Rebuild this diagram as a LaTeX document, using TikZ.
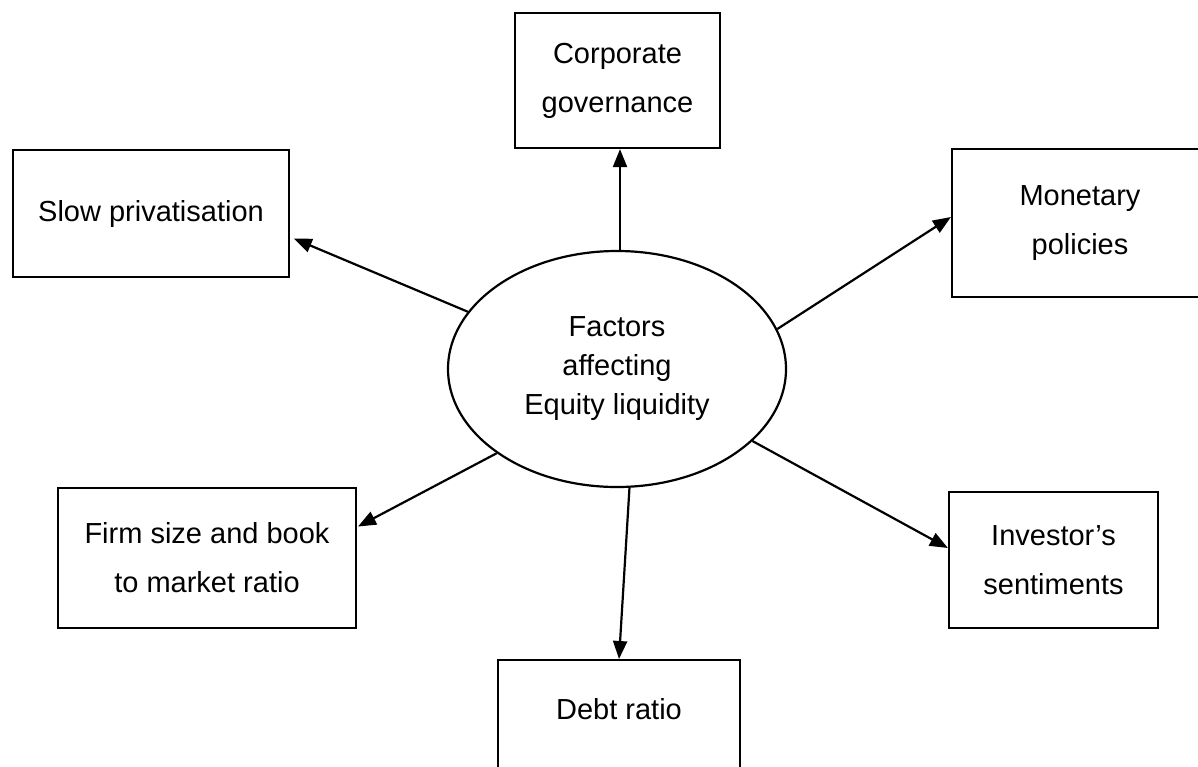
\documentclass[tikz,border=0pt]{standalone}
\usepackage{fontspec}
\setmainfont{Liberation Sans}
\usetikzlibrary{shapes.geometric,arrows.meta}
\begin{document}
\begin{tikzpicture}[x=1pt,y=1pt,
  factor/.style={draw, line width=2.2pt, rectangle, inner sep=0pt, align=center,
    font=\fontsize{29}{49}\selectfont},
  hub/.style={draw, line width=2.2pt, ellipse, inner sep=0pt,
    minimum width=338pt, minimum height=236pt, align=center,
    font=\fontsize{29}{39}\selectfont},
  link/.style={line width=2.2pt, -{Triangle[length=18pt,width=14pt]}}]

\useasboundingbox (0,0) rectangle (1198,-766);
\clip (0,0) rectangle (1198,-766);

% central ellipse
\node[hub] (ell) at (617,-369) {Factors\\affecting\\Equity liquidity};

% surrounding factors
\node[factor, minimum width=205pt, minimum height=135pt] (corp) at (617.5,-80.5)
  {Corporate\\governance};
\node[factor, minimum width=276pt, minimum height=127pt] (slow) at (151,-213.5)
  {Slow privatisation};
\node[factor, minimum width=256pt, minimum height=148pt] (mon) at (1080,-223)
  {Monetary\\policies};
\node[factor, minimum width=298pt, minimum height=140pt] (firm) at (207,-558)
  {Firm size and book\\to market ratio};
\node[factor, minimum width=209pt, minimum height=136pt] (inv) at (1053.5,-560)
  {Investor’s\\sentiments};
\node[factor, minimum width=242pt, minimum height=146pt, anchor=north] (debt) at (619,-659)
  {Debt ratio\\\mbox{}};

% arrows from the centre outwards
\draw[link] ([xshift=3pt]ell.north) -- ([xshift=2.5pt]corp.south);
\draw[link, shorten >=4pt] (ell.159.5) -- ([yshift=-23.5pt]slow.east);
\draw[link] (ell.14) -- ([yshift=6pt]mon.west);
\draw[link, shorten >=1pt] (ell.-145.8) -- ([yshift=31pt]firm.east);
\draw[link] (ell.-28) -- ([yshift=12pt]inv.west);
\draw[link] (ell.-84) -- (debt.north);

\end{tikzpicture}
\end{document}
